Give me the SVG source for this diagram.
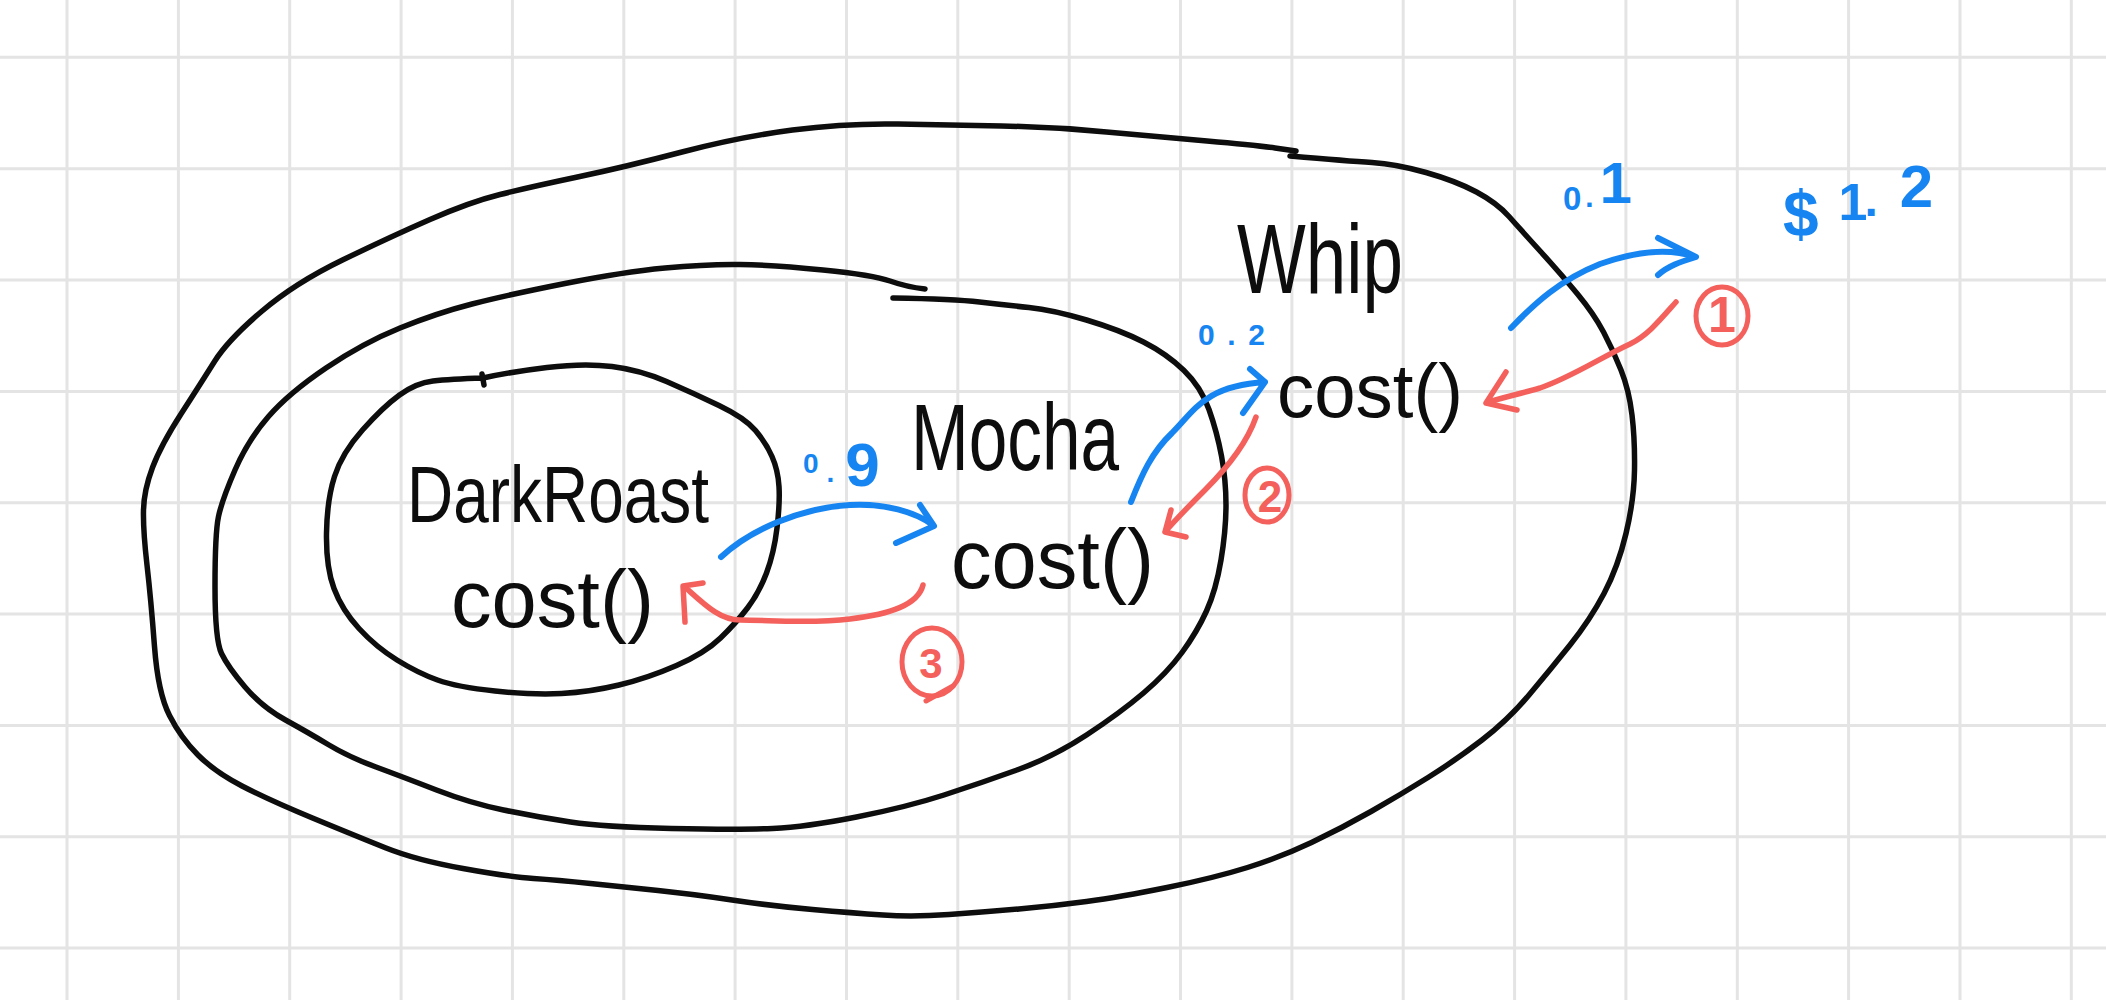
<svg xmlns="http://www.w3.org/2000/svg" width="2106" height="1000" viewBox="0 0 2106 1000">
<style>
.grid{fill:none;stroke:#e4e4e4;stroke-width:3}
.shape{fill:none;stroke:#0d0d0d;stroke-width:5.5;stroke-linecap:round;stroke-linejoin:round}
.ink{font-family:"Liberation Sans",Arial,sans-serif;fill:#0d0d0d}
.blue{font-family:"Liberation Sans",Arial,sans-serif;fill:#1685f2;font-weight:bold}
.red{font-family:"Liberation Sans",Arial,sans-serif;fill:#f4605b;font-weight:bold}
.ab{fill:none;stroke:#1685f2;stroke-width:6;stroke-linecap:round;stroke-linejoin:round}
.ar{fill:none;stroke:#f4605b;stroke-width:5.5;stroke-linecap:round;stroke-linejoin:round}
.ring{fill:none;stroke:#f4605b;stroke-width:5;stroke-linecap:round}
</style>
<rect x="0" y="0" width="2106" height="1000" fill="#ffffff"/>
<path class="grid" d="M67,0V1000M178.4,0V1000M289.7,0V1000M401.1,0V1000M512.4,0V1000M623.8,0V1000M735.1,0V1000M846.5,0V1000M957.8,0V1000M1069.2,0V1000M1180.5,0V1000M1291.9,0V1000M1403.2,0V1000M1514.6,0V1000M1625.9,0V1000M1737.3,0V1000M1848.6,0V1000M1960,0V1000M2071.3,0V1000M0,57.3H2106M0,168.7H2106M0,280H2106M0,391.4H2106M0,502.7H2106M0,614.1H2106M0,725.4H2106M0,836.8H2106M0,948.1H2106"/>

<g id="node-whip">
<path class="shape" d="M1290,156 Q1348,161 1372,162.5 Q1396,164 1426,172.5 Q1456,181 1476.5,192 Q1497,203 1509,216.5 Q1521,230 1541,252 Q1561,274 1577.5,294 Q1594,314 1603.5,332 Q1613,350 1621,370 Q1629,390 1632,415 Q1635,440 1634.5,470 Q1634,500 1626,533.5 Q1618,567 1604,593.5 Q1590,620 1570,645 Q1550,670 1529,695 Q1508,720 1482,740 Q1456,760 1428,777.5 Q1400,795 1371,811.5 Q1342,828 1311.5,842.5 Q1281,857 1247.5,867.5 Q1214,878 1167,887.5 Q1120,897 1086.5,901.5 Q1053,906 1019,909 Q985,912 949,914.5 Q913,917 883,915 Q853,913 812.5,909.5 Q772,906 732,900 Q692,894 658,890.5 Q624,887 590.5,883.5 Q557,880 533.5,878.5 Q510,877 463,868.5 Q416,860 386,848 Q356,836 312.5,818 Q269,800 242,786 Q215,772 198,755 Q181,738 169.5,715.5 Q158,693 154.5,646.5 Q151,600 147,565 Q143,530 143.5,510 Q144,490 152.5,467.5 Q161,445 181,414 Q201,383 214.5,361.5 Q228,340 261.5,311.5 Q295,283 342.5,260 Q390,237 430,219.5 Q470,202 500,194.5 Q530,187 577.5,177 Q625,167 682,152 Q739,137 792.5,130 Q846,123 898,124 Q950,125 1001.5,126 Q1053,127 1106.5,132 Q1160,137 1207,141 Q1254,145 1275,148 L1296,151"/>
<text class="ink" x="1237" y="293" font-size="98" textLength="166" lengthAdjust="spacingAndGlyphs">Whip</text>
<text class="ink" x="1277" y="417" font-size="76" textLength="186" lengthAdjust="spacingAndGlyphs">cost()</text>
</g>

<g id="node-mocha">
<path class="shape" d="M893,298 Q954,299 979.5,302 Q1005,305 1029,307.5 Q1053,310 1086.5,320 Q1120,330 1143.5,342 Q1167,354 1184,370.5 Q1201,387 1209,409.5 Q1217,432 1221.5,456 Q1226,480 1226,505 Q1226,530 1221,560 Q1216,590 1206.5,611 Q1197,632 1182,652.5 Q1167,673 1143.5,693 Q1120,713 1086.5,735 Q1053,757 1017,770 Q981,783 944,795 Q907,807 856.5,817 Q806,827 772.5,828.5 Q739,830 671.5,828.5 Q604,827 570.5,822 Q537,817 503.5,810 Q470,803 436.5,790 Q403,777 376,767 Q349,757 329,745 Q309,733 285.5,720 Q262,707 245,687 Q228,667 221.5,653.5 Q215,640 215,586.5 Q215,533 218.5,516.5 Q222,500 235,470 Q248,440 268.5,416.5 Q289,393 326,368 Q363,343 400,328 Q437,313 472,304 Q507,295 565,283.5 Q623,272 665,268 Q707,264 740,264.5 Q773,265 823,270 Q873,275 890,281 Q907,287 925,289"/>
<text class="ink" x="911" y="470" font-size="95" textLength="208" lengthAdjust="spacingAndGlyphs">Mocha</text>
<text class="ink" x="951" y="588" font-size="84" textLength="203" lengthAdjust="spacingAndGlyphs">cost()</text>
</g>

<g id="node-darkroast">
<path class="shape" d="M483,378 Q510,372 547,367.5 Q584,363 612,366.5 Q640,370 666.5,381.5 Q693,393 719,405.5 Q745,418 755.5,430.5 Q766,443 772,456.5 Q778,470 779,486.5 Q780,503 777,528 Q774,553 766.5,573 Q759,593 747.5,608 Q736,623 720.5,638 Q705,653 676.5,665.5 Q648,678 619,685 Q590,692 561.5,693.5 Q533,695 495,691 Q457,687 437.5,680 Q418,673 397,660 Q376,647 359,628.5 Q342,610 334,588.5 Q326,567 326.5,533.5 Q327,500 334.5,476.5 Q342,453 362.5,430 Q383,407 399.5,395 Q416,383 433,381 Q450,379 483,378 M482,374 L484,385"/>
<text class="ink" x="407" y="522" font-size="80" textLength="302" lengthAdjust="spacingAndGlyphs">DarkRoast</text>
<text class="ink" x="451" y="627" font-size="82" textLength="203" lengthAdjust="spacingAndGlyphs">cost()</text>
</g>

<g id="connectors">
<path class="ab" d="M721,557 C750,530 800,508 850,505 C885,503 915,512 933,525 M920,505 L934,526 L896,543"/>
<path class="ab" d="M1131,502 C1142,474 1152,452 1172,433 C1195,410 1205,386 1265,382 M1250,369 L1265,382 L1243,413"/>
<path class="ab" d="M1511,328 C1535,303 1560,280 1600,264 C1640,250 1670,248 1695,257 M1658,238 L1696,257 C1680,262 1668,266 1658,275"/>
<path class="ar" d="M1676,302 C1660,320 1648,335 1630,344 C1600,358 1570,378 1540,388 C1520,394 1500,398 1486,403 M1506,372 L1486,403 L1517,410"/>
<path class="ar" d="M1256,417 C1248,440 1230,465 1205,490 C1190,505 1175,520 1165,532 M1171,510 L1165,532 L1186,537"/>
<path class="ar" d="M923,585 C918,605 890,614 850,619 C810,624 770,620 740,620 C720,620 705,605 686,588 M703,583 L683,586 L685,622"/>
</g>

<g id="labels">
<text class="blue" x="803" y="473" font-size="28">0<tspan dx="8" dy="9">.</tspan><tspan dx="11" dy="4" font-size="62">9</tspan></text>
<text class="blue" x="1198" y="345" font-size="30" textLength="67" lengthAdjust="spacing">0.2</text>
<text class="blue" x="1563" y="210" font-size="33">0<tspan dx="4" dy="-3" font-size="30">.</tspan><tspan dx="6" dy="-4" font-size="58">1</tspan></text>
<text class="blue" x="1783" y="236" font-size="64">$<tspan dx="20" dy="-16" font-size="52">1</tspan><tspan dx="-3" dy="-4" font-size="48">.</tspan><tspan dx="22" dy="-9" font-size="60">2</tspan></text>
<g id="step-1"><ellipse class="ring" cx="1722" cy="316" rx="26" ry="29"/><text class="red" x="1722" y="332" font-size="50" text-anchor="middle">1</text></g>
<g id="step-2"><ellipse class="ring" cx="1267" cy="495" rx="22" ry="27"/><text class="red" x="1270" y="512" font-size="44" text-anchor="middle">2</text></g>
<g id="step-3"><ellipse class="ring" cx="932" cy="662" rx="30" ry="34"/><path class="ring" d="M953,686 L926,701"/><text class="red" x="931" y="678" font-size="42" text-anchor="middle">3</text></g>
</g>
</svg>
